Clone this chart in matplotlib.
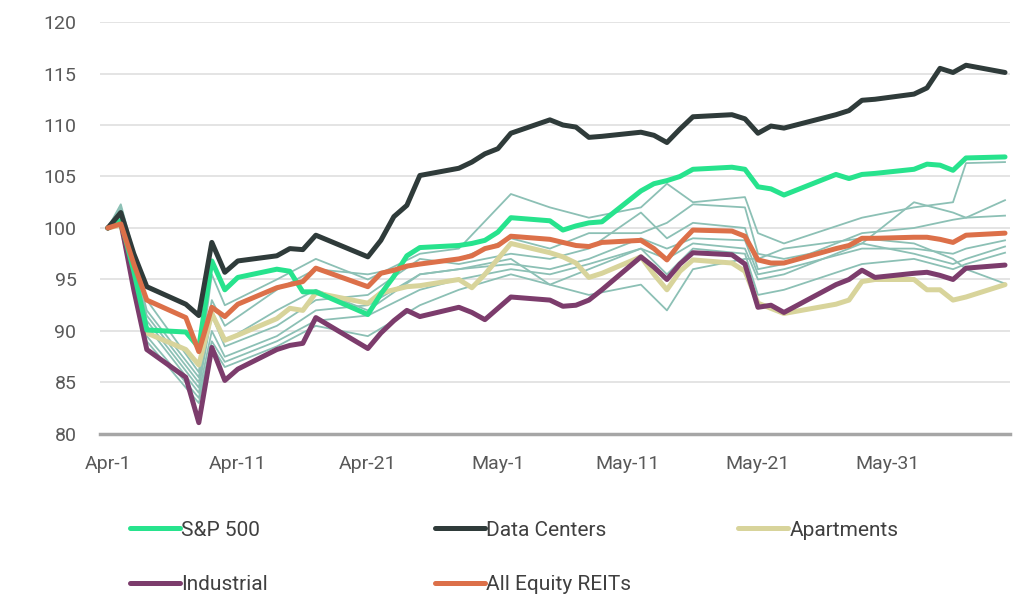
import numpy as np
import pandas as pd
import matplotlib
matplotlib.use('Agg')
import matplotlib.pyplot as plt
import matplotlib.dates as mdates
from matplotlib.ticker import FixedLocator

# trading days used by the highlighted series
dates = pd.to_datetime([
    '2025-04-01', '2025-04-02', '2025-04-03', '2025-04-04', '2025-04-07', '2025-04-08',
    '2025-04-09', '2025-04-10', '2025-04-11', '2025-04-14', '2025-04-15', '2025-04-16',
    '2025-04-17', '2025-04-21', '2025-04-22', '2025-04-23', '2025-04-24', '2025-04-25',
    '2025-04-28', '2025-04-29', '2025-04-30',
    '2025-05-01', '2025-05-02', '2025-05-05', '2025-05-06', '2025-05-07', '2025-05-08',
    '2025-05-09', '2025-05-12', '2025-05-13', '2025-05-14', '2025-05-15', '2025-05-16',
    '2025-05-19', '2025-05-20', '2025-05-21', '2025-05-22', '2025-05-23', '2025-05-27',
    '2025-05-28', '2025-05-29', '2025-05-30',
    '2025-06-02', '2025-06-03', '2025-06-04', '2025-06-05', '2025-06-06', '2025-06-09'])

sp500 = [100, 100.7, 95.8, 90.1, 89.9, 88.4, 96.8, 94.0, 95.2, 96.0, 95.8, 93.8, 93.8,
         91.6, 93.6, 95.3, 97.3, 98.1, 98.3, 98.5, 98.8,
         99.6, 101.0, 100.7, 99.8, 100.2, 100.5, 100.6, 103.6, 104.3, 104.6, 105.0, 105.7,
         105.9, 105.7, 104.0, 103.8, 103.2, 105.2, 104.8, 105.2, 105.3,
         105.7, 106.2, 106.1, 105.6, 106.8, 106.9]
data_centers = [100, 101.5, 97.5, 94.3, 92.6, 91.5, 98.6, 95.7, 96.8, 97.3, 98.0, 97.9, 99.3,
                97.2, 98.8, 101.1, 102.2, 105.1, 105.8, 106.4, 107.2,
                107.7, 109.2, 110.5, 110.0, 109.8, 108.8, 108.9, 109.3, 109.0, 108.3, 109.6, 110.8,
                111.0, 110.6, 109.2, 109.9, 109.7, 111.0, 111.4, 112.4, 112.5,
                113.0, 113.6, 115.5, 115.1, 115.8, 115.1]
apartments = [100, 100.3, 95.0, 89.8, 88.2, 86.7, 91.7, 89.1, 89.6, 91.2, 92.2, 92.0, 93.7,
              92.7, 93.7, 94.0, 94.3, 94.4, 95.0, 94.2, 95.5,
              97.0, 98.5, 97.6, 97.2, 96.6, 95.2, 95.6, 97.2, 95.5, 94.0, 95.8, 96.9,
              96.6, 95.8, 92.7, 92.2, 91.7, 92.6, 93.0, 94.8, 95.0,
              95.0, 94.0, 94.0, 93.0, 93.3, 94.5]
industrial = [100, 100.6, 94.0, 88.2, 85.5, 81.1, 88.4, 85.2, 86.3, 88.2, 88.6, 88.8, 91.3,
              88.3, 89.8, 91.0, 92.0, 91.4, 92.3, 91.8, 91.1,
              92.2, 93.3, 93.0, 92.4, 92.5, 93.0, 94.0, 97.2, 96.2, 95.0, 96.5, 97.6,
              97.4, 96.5, 92.3, 92.5, 91.8, 94.5, 95.0, 95.9, 95.2,
              95.6, 95.7, 95.4, 95.0, 96.1, 96.4]
all_equity = [100, 100.4, 96.5, 93.0, 91.3, 88.0, 92.3, 91.4, 92.6, 94.2, 94.5, 94.8, 96.1,
              94.3, 95.6, 95.9, 96.3, 96.5, 97.0, 97.3, 98.0,
              98.3, 99.2, 98.9, 98.6, 98.3, 98.2, 98.6, 98.8, 98.0, 96.9, 98.5, 99.8,
              99.7, 99.2, 96.9, 96.6, 96.6, 98.0, 98.3, 99.0, 99.0,
              99.1, 99.1, 98.9, 98.6, 99.3, 99.5]

# other REIT sectors, read on fewer dates
sector_dates = pd.to_datetime([
    '2025-04-01', '2025-04-02', '2025-04-04', '2025-04-08', '2025-04-09', '2025-04-10',
    '2025-04-14', '2025-04-17', '2025-04-21', '2025-04-25', '2025-04-28', '2025-05-02',
    '2025-05-05', '2025-05-08', '2025-05-12', '2025-05-14', '2025-05-16', '2025-05-20',
    '2025-05-21', '2025-05-23', '2025-05-29', '2025-06-02', '2025-06-05', '2025-06-06',
    '2025-06-09'])
sectors = [
    [100, 102.3, 93.0, 86.0, 95.5, 92.5, 95.0, 97.0, 95.0, 97.5, 98.0, 103.3, 102.0,
     101.0, 102.0, 104.3, 102.5, 103.0, 99.5, 98.5, 101.0, 102.0, 102.5, 106.3, 106.4],
    [100, 102.0, 92.0, 85.5, 93.0, 90.5, 94.0, 96.0, 95.5, 96.5, 97.0, 99.0, 98.0,
     99.5, 99.5, 100.5, 102.3, 102.0, 97.5, 97.0, 98.5, 102.5, 101.5, 101.0, 102.7],
    [100, 101.8, 91.0, 84.5, 91.5, 88.5, 90.5, 93.0, 93.5, 97.0, 96.5, 97.5, 97.0,
     98.0, 101.5, 99.0, 100.5, 100.0, 96.0, 96.5, 99.5, 100.0, 100.8, 101.0, 101.2],
    [100, 101.5, 90.5, 84.0, 90.0, 87.5, 89.5, 92.0, 92.5, 95.5, 96.0, 96.5, 96.0,
     97.0, 99.0, 98.0, 99.0, 98.8, 95.5, 96.0, 98.0, 98.0, 97.5, 98.0, 98.8],
    [100, 101.2, 89.5, 83.5, 89.0, 87.0, 89.0, 91.0, 91.5, 94.0, 95.0, 96.0, 95.5,
     96.5, 98.0, 97.0, 98.5, 98.0, 95.0, 95.5, 98.5, 97.5, 96.5, 97.0, 98.2],
    [100, 101.0, 89.0, 83.0, 88.5, 86.5, 88.5, 90.5, 89.5, 92.5, 94.0, 95.5, 94.5,
     96.0, 98.0, 95.5, 98.0, 97.5, 93.5, 94.0, 96.5, 97.0, 96.0, 96.5, 97.6],
    [100, 101.5, 91.5, 85.0, 92.0, 89.0, 92.0, 94.0, 92.0, 95.5, 96.0, 97.0, 94.5,
     93.5, 94.5, 92.0, 96.0, 97.0, 97.0, 98.0, 99.0, 98.5, 97.0, 96.0, 94.6],
]

tick_dates = pd.to_datetime(['2025-04-01', '2025-04-11', '2025-04-21', '2025-05-01',
                             '2025-05-11', '2025-05-21', '2025-05-31'])
tick_labels = ['Apr-1', 'Apr-11', 'Apr-21', 'May-1', 'May-11', 'May-21', 'May-31']
y_ticks = [80, 85, 90, 95, 100, 105, 110, 115, 120]

plt.rcParams['font.family'] = ['Roboto', 'DejaVu Sans']

fig = plt.figure(figsize=(10.34, 6.03), dpi=100)
ax = fig.add_axes([0.0967, 0.2803, 0.8803, 0.6832])

for s in sectors:
    ax.plot(sector_dates, s, color='#8cc0b5', lw=1.3, zorder=2)

series = [
    ('Apartments', apartments, '#d8d49b'),
    ('Industrial', industrial, '#7c3c6c'),
    ('S&P 500', sp500, '#27e38d'),
    ('Data Centers', data_centers, '#2f3b3a'),
    ('All Equity REITs', all_equity, '#dc7049'),
]
lines = {}
for name, vals, col in series:
    ln, = ax.plot(dates, vals, color=col, lw=3.6, zorder=3,
                  solid_capstyle='round', solid_joinstyle='round')
    lines[name] = ln

x0 = mdates.date2num(dates[0])
ax.set_xlim(x0 - 0.6, x0 + 69.4)
ax.set_ylim(80, 120)
ax.xaxis.set_major_locator(FixedLocator(mdates.date2num(tick_dates)))
ax.set_xticklabels(tick_labels)
ax.set_yticks(y_ticks)
ax.grid(axis='y', color='#e2e2e2', lw=1.3, zorder=0)
ax.set_axisbelow(True)
for sp in ['top', 'right', 'left']:
    ax.spines[sp].set_visible(False)
ax.spines['bottom'].set_color('#a6a6a6')
ax.spines['bottom'].set_linewidth(2.5)
ax.tick_params(axis='both', length=0, labelsize=14, labelcolor='#595959')
ax.tick_params(axis='x', pad=15)
ax.tick_params(axis='y', pad=17)

# legend entries placed one by one
legend_pos = [
    ('S&P 500', 0.118, 0.121),
    ('Data Centers', 0.413, 0.121),
    ('Apartments', 0.706, 0.121),
    ('Industrial', 0.118, 0.030),
    ('All Equity REITs', 0.413, 0.030),
]
for name, lx, ly in legend_pos:
    fig.legend([lines[name]], [name], loc='center left', bbox_to_anchor=(lx, ly),
               frameon=False, handlelength=2.4, handletextpad=0.05,
               fontsize=15, labelcolor='#404040', borderaxespad=0)

fig.savefig('out.png', dpi=100)
